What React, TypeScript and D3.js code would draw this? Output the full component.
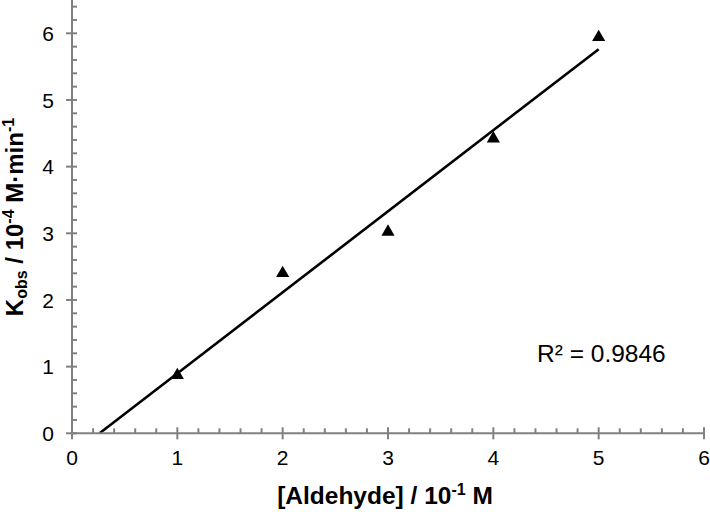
import React, { useEffect, useRef } from "react";
import * as d3 from "d3";

// [Aldehyde] / 10^-1 M
const concentrations = [1, 2, 3, 4, 5];
// k_obs / 10^-4 M·min^-1
const kObs = [0.87, 2.4, 3.02, 4.42, 5.94];
const xTicks = [0, 1, 2, 3, 4, 5, 6];
const yTicks = [0, 1, 2, 3, 4, 5, 6];
const rSquaredLabel = "R² = 0.9846";

const width = 710;
const height = 512;

const App = () => {
  const ref = useRef<SVGSVGElement>(null);

  useEffect(() => {
    drawChart();
  }, []);

  const drawChart = () => {
    const svg = d3.select(ref.current);
    svg.selectAll("*").remove();

    const x = d3.scaleLinear().domain([0, 6]).range([72, 704]);
    const y = d3.scaleLinear().domain([0, 6]).range([433.3, 33.3]);
    const axisColor = "#808080";
    const font = "'Liberation Sans', Arial, sans-serif";

    // least-squares trend line
    const xm = d3.mean(concentrations)!;
    const ym = d3.mean(kObs)!;
    const sxy = d3.sum(concentrations, (c, i) => (c - xm) * (kObs[i] - ym));
    const sxx = d3.sum(concentrations, (c) => (c - xm) ** 2);
    const slope = sxy / sxx;
    const intercept = ym - slope * xm;
    const x0 = -intercept / slope;
    const x1 = d3.max(concentrations)!;

    svg
      .append("line")
      .attr("x1", x(x0))
      .attr("y1", y(0))
      .attr("x2", x(x1))
      .attr("y2", y(slope * x1 + intercept))
      .attr("stroke", "#000")
      .attr("stroke-width", 2.6);

    // axes
    const g = svg.append("g").attr("stroke", axisColor).attr("stroke-width", 2);
    g.append("line")
      .attr("x1", x(0)).attr("x2", x(0))
      .attr("y1", y(0)).attr("y2", y(6.5));
    g.append("line")
      .attr("x1", x(0)).attr("x2", x(6))
      .attr("y1", y(0)).attr("y2", y(0));

    const minorY = d3.range(0, 6.5, 0.2).filter((v) => Math.abs(v - Math.round(v)) > 0.01);
    const minorX = d3.range(0, 6, 0.2).filter((v) => Math.abs(v - Math.round(v)) > 0.01);

    g.selectAll(".ymin")
      .data(minorY)
      .enter()
      .append("line")
      .attr("x1", x(0)).attr("x2", x(0) + 5)
      .attr("y1", (d) => y(d)).attr("y2", (d) => y(d));
    g.selectAll(".ymaj")
      .data(yTicks)
      .enter()
      .append("line")
      .attr("x1", x(0) - 6).attr("x2", x(0) + 5)
      .attr("y1", (d) => y(d)).attr("y2", (d) => y(d));
    g.selectAll(".xmin")
      .data(minorX)
      .enter()
      .append("line")
      .attr("x1", (d) => x(d)).attr("x2", (d) => x(d))
      .attr("y1", y(0)).attr("y2", y(0) - 5);
    g.selectAll(".xmaj")
      .data(xTicks)
      .enter()
      .append("line")
      .attr("x1", (d) => x(d)).attr("x2", (d) => x(d))
      .attr("y1", y(0) - 6).attr("y2", y(0) + 6);

    svg.selectAll(".ylab")
      .data(yTicks)
      .enter()
      .append("text")
      .attr("x", 54)
      .attr("y", (d) => y(d))
      .attr("dy", "0.36em")
      .attr("text-anchor", "end")
      .attr("font-family", font)
      .attr("font-size", 21)
      .text((d) => d);

    svg.selectAll(".xlab")
      .data(xTicks)
      .enter()
      .append("text")
      .attr("x", (d) => x(d))
      .attr("y", 465)
      .attr("text-anchor", "middle")
      .attr("font-family", font)
      .attr("font-size", 21)
      .text((d) => d);

    // points
    const tri = d3.symbol().type(d3.symbolTriangle).size(75);
    svg.selectAll(".pt")
      .data(concentrations)
      .enter()
      .append("path")
      .attr("d", tri)
      .attr("transform", (d, i) => `translate(${x(d)},${y(kObs[i])})`)
      .attr("fill", "#000");

    // labels
    const xl = svg.append("text")
      .attr("x", 385)
      .attr("y", 504)
      .attr("text-anchor", "middle")
      .attr("font-family", font)
      .attr("font-size", 24.5)
      .attr("font-weight", "bold");
    xl.append("tspan").text("[Aldehyde] / 10");
    xl.append("tspan").attr("font-size", 16).attr("dy", -9).text("-1");
    xl.append("tspan").attr("dy", 9).text(" M");

    const yl = svg.append("text")
      .attr("transform", "translate(22.5,217) rotate(-90)")
      .attr("text-anchor", "middle")
      .attr("font-family", font)
      .attr("font-size", 24)
      .attr("font-weight", "bold");
    yl.append("tspan").text("K");
    yl.append("tspan").attr("font-size", 16).attr("dy", 4).text("obs");
    yl.append("tspan").attr("dy", -4).text("  / 10");
    yl.append("tspan").attr("font-size", 16).attr("dy", -9).text("-4");
    yl.append("tspan").attr("dy", 9).text(" M·min");
    yl.append("tspan").attr("font-size", 16).attr("dy", -9).text("-1");

    svg.append("text")
      .attr("x", 537)
      .attr("y", 362)
      .attr("font-family", font)
      .attr("font-size", 24.5)
      .text(rSquaredLabel);
  };

  return (
    <svg
      ref={ref}
      width={width}
      height={height}
      style={{ position: "absolute", left: 0, top: 0, background: "#fff" }}
    />
  );
};

export default App;
